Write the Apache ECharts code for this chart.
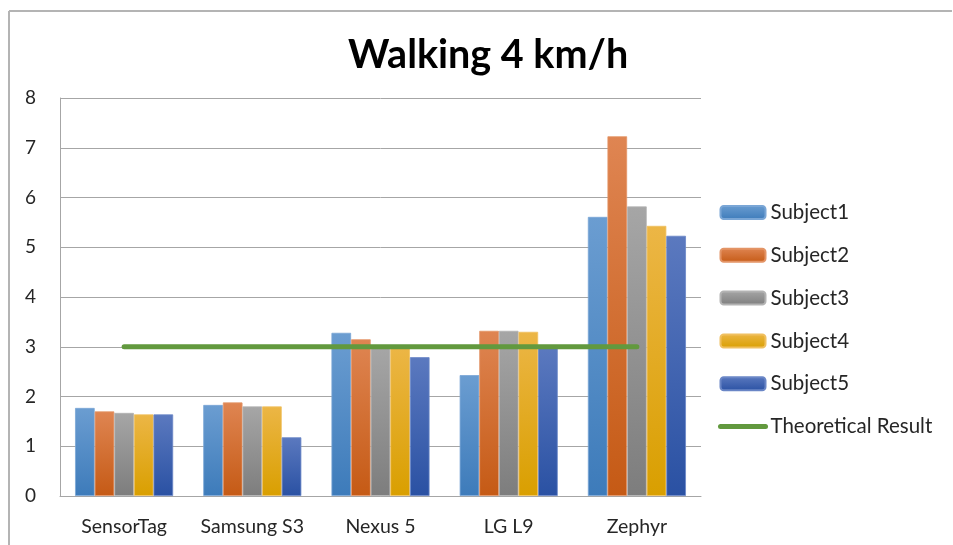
<!DOCTYPE html>
<html>
<head>
<meta charset="utf-8">
<script src="https://cdn.jsdelivr.net/npm/echarts@6/dist/echarts.min.js"></script>
<style>
html,body{margin:0;padding:0;background:#fff;}
#chart{width:953px;height:545px;}
</style>
</head>
<body>
<div id="chart"></div>
<script>
var titleText = 'Walking 4 km/h';
var categories = ['SensorTag', 'Samsung S3', 'Nexus 5', 'LG L9', 'Zephyr'];
var subject1 = [1.77, 1.83, 3.28, 2.43, 5.61];
var subject2 = [1.70, 1.88, 3.15, 3.32, 7.23];
var subject3 = [1.67, 1.80, 2.98, 3.32, 5.82];
var subject4 = [1.64, 1.80, 2.99, 3.30, 5.43];
var subject5 = [1.64, 1.18, 2.79, 2.98, 5.23];
var theoretical = [3, 3, 3, 3, 3];
var seriesNames = ['Subject1', 'Subject2', 'Subject3', 'Subject4', 'Subject5', 'Theoretical Result'];
var yTicks = [0, 1, 2, 3, 4, 5, 6, 7, 8];

var gradients = [
  ['#6b9dd1', '#3d7bba', '#7aa6d6'],
  ['#df8552', '#c55a15', '#e39466'],
  ['#a6a6a6', '#7d7d7d', '#b3b3b3'],
  ['#ecb646', '#d99f00', '#f0c060'],
  ['#5b79bf', '#2a51a3', '#6a86c6']
];
function grad(i) {
  return {type: 'linear', x: 0, y: 0, x2: 0, y2: 1,
    colorStops: [{offset: 0, color: gradients[i][0]}, {offset: 1, color: gradients[i][1]}]};
}
var barData = [subject1, subject2, subject3, subject4, subject5];
var series = barData.map(function (d, i) {
  return {
    name: seriesNames[i], type: 'bar', data: d,
    barGap: '0%', barCategoryGap: '23.5%',
    itemStyle: {color: grad(i), borderColor: gradients[i][2], borderWidth: 0.8},
    emphasis: {disabled: true}
  };
});
series.push({
  name: seriesNames[5], type: 'line', data: theoretical, symbol: 'none', z: 5,
  lineStyle: {color: '#62993e', width: 5, cap: 'round'},
  itemStyle: {color: '#62993e'}
});

var legendData = seriesNames.map(function (n, i) {
  if (i === 5) {
    return {name: n, itemStyle: {opacity: 0}, lineStyle: {width: 5, cap: 'round', color: '#62993e'}};
  }
  return {name: n};
});

var chart = echarts.init(document.getElementById('chart'), null, {renderer: 'canvas'});
chart.setOption({
  animation: false,
  backgroundColor: '#ffffff',
  title: {
    text: titleText, left: 343, top: 30,
    textStyle: {fontFamily: 'Lato', fontWeight: 'bold', fontSize: 39.5, color: '#000000'}
  },
  graphic: [
    {type: 'line', shape: {x1: 9, y1: 11, x2: 952, y2: 11}, style: {stroke: '#b4b4b4', lineWidth: 2}},
    {type: 'line', shape: {x1: 9, y1: 11, x2: 9, y2: 545}, style: {stroke: '#b4b4b4', lineWidth: 2}}
  ],
  legend: {
    orient: 'vertical', left: 713, top: 197,
    itemWidth: 45, itemHeight: 13, itemGap: 21.8,
    data: legendData,
    textStyle: {fontFamily: 'Lato', fontSize: 20.5, color: '#262626', lineHeight: 20}
  },
  grid: {left: 60, right: 252, top: 98, bottom: 49, containLabel: false},
  xAxis: {
    type: 'category', data: categories,
    axisLine: {show: true, lineStyle: {color: '#a6a6a6', width: 1}},
    axisTick: {show: false},
    axisLabel: {interval: 0, hideOverlap: false, fontFamily: 'Lato', fontSize: 19.5, color: '#262626', margin: 21}
  },
  yAxis: {
    type: 'value', min: yTicks[0], max: yTicks[yTicks.length - 1], interval: 1,
    axisLine: {show: true, lineStyle: {color: '#a6a6a6', width: 1}},
    axisTick: {show: false},
    splitLine: {show: true, lineStyle: {color: '#a6a6a6', width: 1}},
    axisLabel: {fontFamily: 'Lato', fontSize: 19, color: '#262626', margin: 24}
  },
  series: series
});
</script>
</body>
</html>
